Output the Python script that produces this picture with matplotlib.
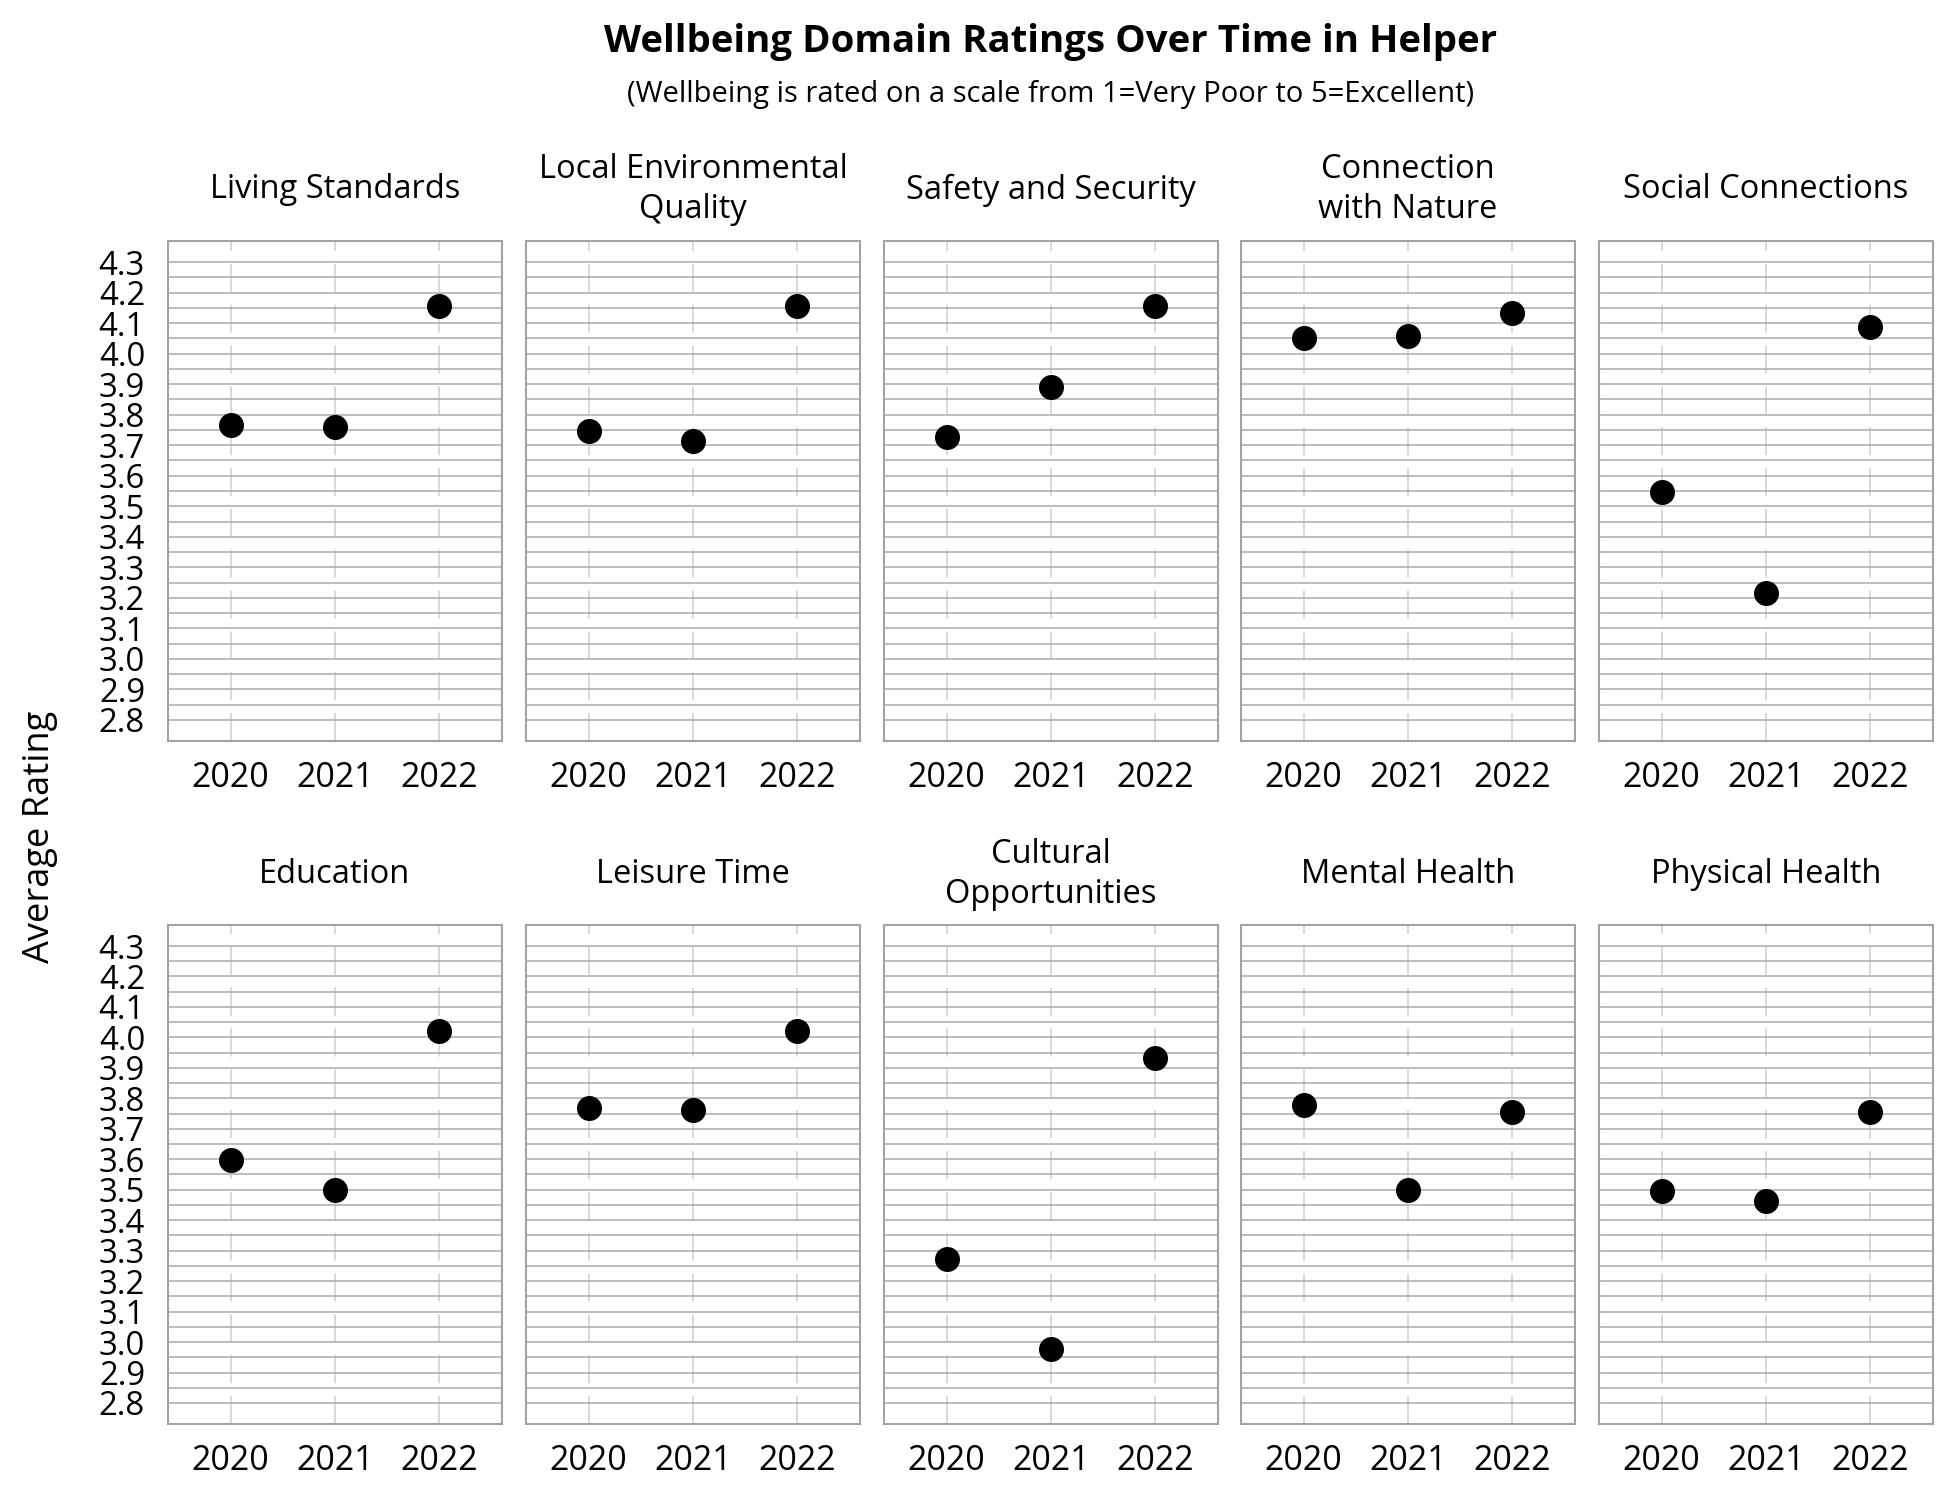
import matplotlib
matplotlib.use("Agg")
import matplotlib.pyplot as plt
from matplotlib.ticker import FixedLocator
import numpy as np

plt.rcParams['font.family'] = ['Open Sans', 'DejaVu Sans']
plt.rcParams['lines.scale_dashes'] = False

years = ["2020", "2021", "2022"]
domains = [
    "Living Standards", "Local Environmental\nQuality", "Safety and Security",
    "Connection\nwith Nature", "Social Connections",
    "Education", "Leisure Time", "Cultural\nOpportunities",
    "Mental Health", "Physical Health",
]
living_standards = [3.767, 3.761, 4.155]
local_environment = [3.747, 3.714, 4.155]
safety_security = [3.727, 3.892, 4.155]
connection_nature = [4.050, 4.058, 4.132]
social_connections = [3.546, 3.215, 4.088]
education = [3.596, 3.500, 4.021]
leisure_time = [3.767, 3.761, 4.021]
cultural_opportunities = [3.273, 2.977, 3.932]
mental_health = [3.777, 3.500, 3.755]
physical_health = [3.495, 3.464, 3.755]
values = [living_standards, local_environment, safety_security, connection_nature,
          social_connections, education, leisure_time, cultural_opportunities,
          mental_health, physical_health]
ytick_values = [2.8, 2.9, 3.0, 3.1, 3.2, 3.3, 3.4, 3.5, 3.6, 3.7, 3.8, 3.9, 4.0, 4.1, 4.2, 4.3]

W, H = 1950, 1500
fig = plt.figure(figsize=(13, 10), dpi=150)

lefts = [168, 526, 884, 1241, 1599]
pw = 334
rows = [(241, 741), (925, 1424)]
grid_col = "#acacac"
spine_col = "#a3a3a3"
vgrid_col = "#d2d2d2"
x = np.arange(len(years))

for i, (name, vals) in enumerate(zip(domains, values)):
    r, c = divmod(i, 5)
    top, bot = rows[r]
    ax = fig.add_axes([lefts[c] / W, 1 - bot / H, pw / W, (bot - top) / H])
    ax.set_xlim(-0.6, 2.6)
    ax.set_ylim(2.731, 4.369)
    ax.set_axisbelow(True)
    ax.yaxis.set_major_locator(FixedLocator(ytick_values))
    minor = [v + 0.05 for v in ytick_values[:-1]]
    ax.yaxis.set_minor_locator(FixedLocator(minor))
    ax.set_xticks(x)
    ax.set_xticklabels(years)
    ax.grid(axis='x', color=vgrid_col, lw=0.8, linestyle=(0, (13.4, 6.2)))
    ax.grid(axis='y', which='both', color=grid_col, lw=0.75)
    ax.tick_params(axis='both', which='both', length=0)
    ax.tick_params(axis='x', pad=9.5, labelsize=16.3)
    ax.tick_params(axis='y', pad=11, labelsize=15.8)
    if c != 0:
        ax.tick_params(axis='y', labelleft=False)
    else:
        ax.set_yticklabels([f"{v:.1f}" for v in ytick_values])
    for s in ax.spines.values():
        s.set_color(spine_col)
        s.set_linewidth(1.0)
    ax.plot(x, vals, 'o', color='black', markersize=11, linestyle='none', zorder=3)
    ax.text(0.5, 1.102, name, transform=ax.transAxes, ha='center', va='center',
            fontsize=15.7, multialignment='center', linespacing=1.28)

fig.text(1051 / W, 1 - 52 / H, "Wellbeing Domain Ratings Over Time in Helper",
         ha='center', va='baseline', fontsize=18.4, fontweight='bold')
fig.text(1051 / W, 1 - 102 / H, "(Wellbeing is rated on a scale from 1=Very Poor to 5=Excellent)",
         ha='center', va='baseline', fontsize=14)
fig.text(40 / W, 1 - 837 / H, "Average Rating", rotation=90, ha='center', va='center',
         fontsize=17.4)

fig.savefig("out.png", dpi=150)
